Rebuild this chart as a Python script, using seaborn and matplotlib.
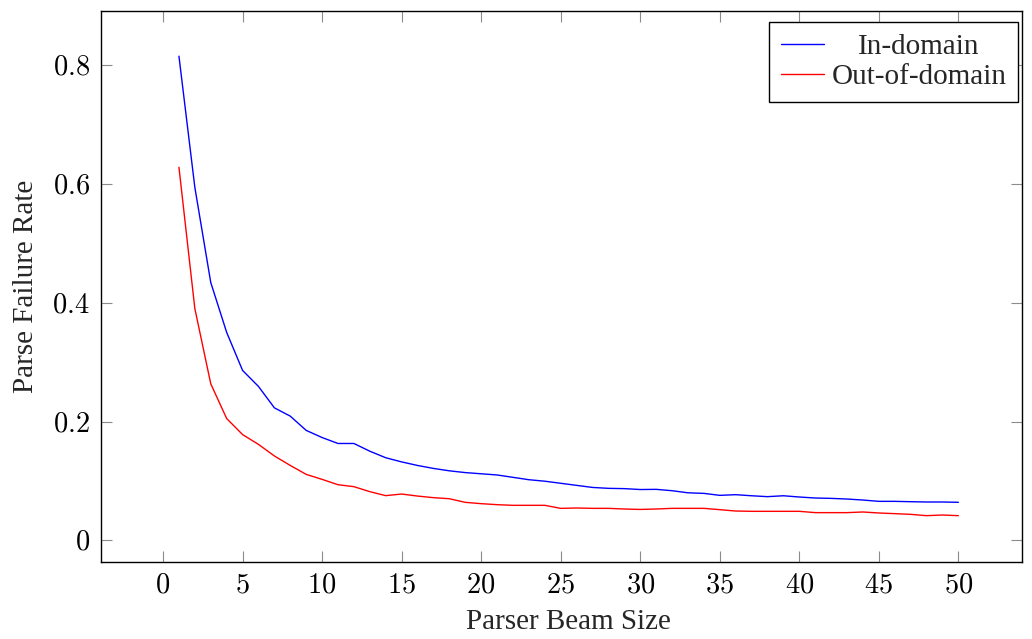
import matplotlib
matplotlib.use("Agg")
import matplotlib.pyplot as plt
import matplotlib.transforms as mtransforms
import seaborn as sns
import pandas as pd

beam_sizes = list(range(1, 51))
in_domain = [0.815, 0.594, 0.434, 0.350, 0.286, 0.259, 0.223, 0.209, 0.185, 0.173,
             0.163, 0.163, 0.150, 0.139, 0.132, 0.126, 0.121, 0.117, 0.114, 0.112,
             0.110, 0.106, 0.102, 0.0995, 0.096, 0.0925, 0.089, 0.0875, 0.087, 0.0855,
             0.0858, 0.0835, 0.080, 0.079, 0.0757, 0.0768, 0.075, 0.0735, 0.075, 0.0729,
             0.0712, 0.0706, 0.0695, 0.0678, 0.0656, 0.0656, 0.065, 0.0645, 0.0645, 0.064]
out_domain = [0.628, 0.390, 0.2635, 0.205, 0.178, 0.1615, 0.142, 0.126, 0.111, 0.1026,
              0.0936, 0.0903, 0.0819, 0.0752, 0.0779, 0.0745, 0.0718, 0.070, 0.0639, 0.0617,
              0.060, 0.0589, 0.0589, 0.0589, 0.0538, 0.0544, 0.0538, 0.0538, 0.0527, 0.052,
              0.0527, 0.0538, 0.0538, 0.0538, 0.0516, 0.0493, 0.0488, 0.0488, 0.0488, 0.0488,
              0.0466, 0.0466, 0.0466, 0.0477, 0.046, 0.0449, 0.0437, 0.0415, 0.0426, 0.0415]
series_names = ["In-domain", "Out-of-domain"]
x_ticks = [0, 5, 10, 15, 20, 25, 30, 35, 40, 45, 50]
y_ticks = [0, 0.2, 0.4, 0.6, 0.8]

df = pd.DataFrame({
    "beam": beam_sizes * 2,
    "rate": in_domain + out_domain,
    "series": [series_names[0]] * len(beam_sizes) + [series_names[1]] * len(beam_sizes),
})

sns.set_style("ticks")
plt.rcParams["font.family"] = ["Liberation Serif", "DejaVu Serif"]
plt.rcParams["mathtext.fontset"] = "cm"

fig = plt.figure(figsize=(10.32, 6.39), dpi=100)
ax = fig.add_axes([101 / 1032, 1 - 562 / 639, (1022 - 101) / 1032, (562 - 11) / 639])

sns.lineplot(data=df, x="beam", y="rate", hue="series",
             palette={"In-domain": "#0000ff", "Out-of-domain": "#ff0000"},
             linewidth=1.0, ax=ax, legend=True)

ax.set_xlim(-3.9, 54.0)
ax.set_ylim(-0.0365, 0.891)
ax.set_xticks(x_ticks)
ax.set_yticks(y_ticks)
ax.set_xticklabels([f"${t}$" for t in x_ticks])
ax.set_yticklabels(["$0$" if t == 0 else f"${t:.1f}$" for t in y_ticks])

ax.tick_params(axis="both", which="major", direction="in", length=8, width=0.8,
               color="#8c8c8c", labelsize=20.5, top=True, right=True, pad=8,
               labelcolor="black")
for s in ax.spines.values():
    s.set_color("black")
    s.set_linewidth(1.0)
    s.set_visible(True)

ax.set_xlabel("Parser Beam Size", fontsize=21, labelpad=7)
ax.set_ylabel("Parse Failure Rate", fontsize=21, labelpad=10)
ax.xaxis.set_label_coords(0.507, -0.086)

handles, labels = ax.get_legend_handles_labels()
leg = ax.legend(handles, labels, loc="upper right", bbox_to_anchor=(0.9957, 0.980),
                borderaxespad=0, fontsize=21, frameon=True, fancybox=False,
                edgecolor="black", framealpha=1, handlelength=1.5, handletextpad=0.24,
                borderpad=0.4, labelspacing=0.12)
leg.get_frame().set_linewidth(1.0)
for line in leg.get_lines():
    line.set_linewidth(1.0)

# center the legend labels in their column, as in the reference
fig.canvas.draw()
renderer = fig.canvas.get_renderer()
texts = leg.get_texts()
widths = [t.get_window_extent(renderer).width for t in texts]
wmax = max(widths)
for t, w in zip(texts, widths):
    dx = (wmax - w) / 2
    if dx > 0:
        t.set_transform(t.get_transform() + mtransforms.Affine2D().translate(dx, 0))

fig.savefig("out.png", dpi=100)
